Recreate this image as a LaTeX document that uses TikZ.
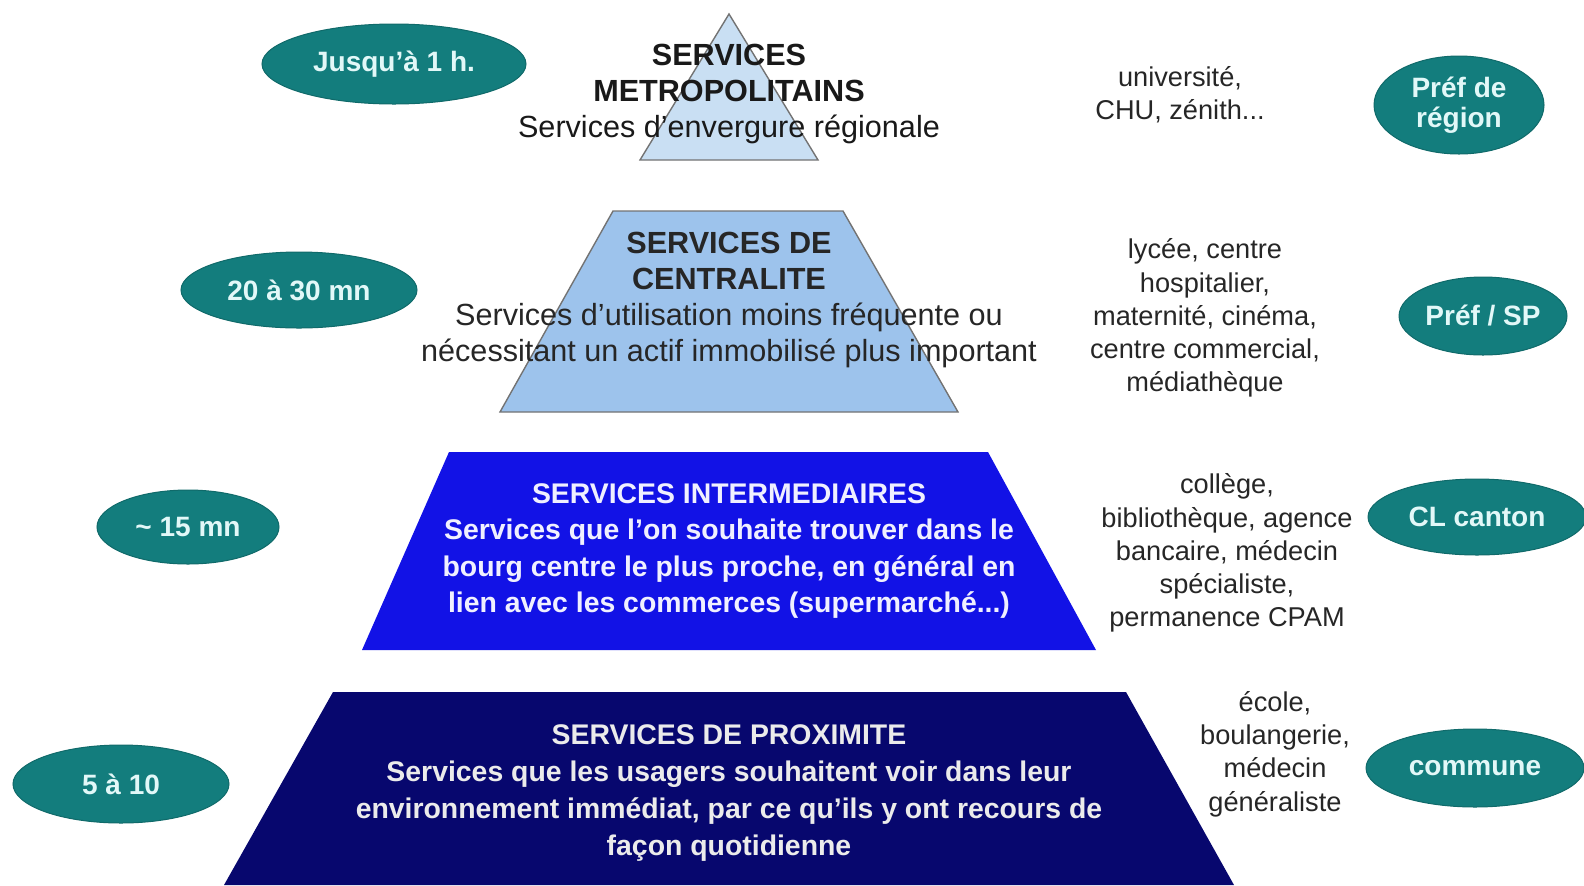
\documentclass[tikz,border=0pt]{standalone}
\usepackage{fontspec}
\setmainfont{Liberation Sans}
\usepackage{tikz}
\usetikzlibrary{shapes.geometric}

\definecolor{sarcelle}{HTML}{137D7D}
\definecolor{bulletexte}{HTML}{E2F8F8}
\definecolor{ciel}{HTML}{C9DFF3}
\definecolor{azur}{HTML}{9DC3EC}
\definecolor{roi}{HTML}{1212E6}
\definecolor{marine}{HTML}{07076E}

\tikzset{
  bulle/.style={ellipse, fill=sarcelle, draw=sarcelle!85!black, line width=0.5pt,
    inner sep=0pt, text=bulletexte, align=center,
    font=\bfseries\fontsize{14}{15}\selectfont},
  etage/.style={draw=black!55, line width=0.7pt},
  etagetexte/.style={align=center, font=\fontsize{15.3}{18}\selectfont},
  listetexte/.style={align=center, text=black!85, font=\fontsize{13.6}{16.6}\selectfont}
}

\begin{document}
\begin{tikzpicture}[x=0.5pt,y=-0.5pt]
\useasboundingbox (0,0) rectangle (1584,885);
% pyramide
\filldraw[etage, fill=ciel] (729,14) -- (818,160) -- (640,160) -- cycle;
\filldraw[etage, fill=azur] (613,211) -- (843,211) -- (958,412) -- (500,412) -- cycle;
\fill[roi] (449,452) -- (988,452) -- (1096,650) -- (362,650) -- cycle;
\fill[marine] (333,692) -- (1126,692) -- (1234,885) -- (224,885) -- cycle;

% textes des etages
\node[etagetexte, text=black!90] (metro) at (729,94)
  {\textbf{SERVICES}\\\textbf{METROPOLITAINS}\\Services d'envergure régionale};
\node[etagetexte, text=black!85] (centre) at (729,300)
  {\textbf{SERVICES DE}\\\textbf{CENTRALITE}\\Services d'utilisation moins fréquente ou\\nécessitant un actif immobilisé plus important};
\node[etagetexte, text=white!94!blue, font=\bfseries\fontsize{14.2}{18.2}\selectfont] (inter) at (729,551)
  {SERVICES INTERMEDIAIRES\\Services que l'on souhaite trouver dans le\\bourg centre le plus proche, en général en\\lien avec les commerces (supermarché...)};
\node[etagetexte, text=black!8, font=\bfseries\fontsize{14.2}{18.6}\selectfont] (proxi) at (729,793)
  {SERVICES DE PROXIMITE\\Services que les usagers souhaitent voir dans leur\\environnement immédiat, par ce qu'ils y ont recours de\\façon quotidienne};

% durees
\node[bulle, minimum width=132pt, minimum height=40pt] (heure) at (394,64) {Jusqu'à 1 h.};
\node[bulle, minimum width=118pt, minimum height=38pt] (trente) at (299,290) {20 à 30 mn};
\node[bulle, minimum width=91pt, minimum height=37pt] (quinze) at (188,527) {\textasciitilde\ 15 mn};
\node[bulle, minimum width=108pt, minimum height=39pt] (dix) at (121,784) {5 à 10};

% equipements
\node[listetexte] (univ) at (1180,95) {université,\\CHU, zénith...};
\node[listetexte] (lycee) at (1205,318) {lycée, centre\\hospitalier,\\maternité, cinéma,\\centre commercial,\\médiathèque};
\node[listetexte] (college) at (1227,553) {collège,\\bibliothèque, agence\\bancaire, médecin\\spécialiste,\\permanence CPAM};
\node[listetexte] (ecole) at (1275,754) {école,\\boulangerie,\\médecin\\généraliste};

% niveaux administratifs
\node[bulle, minimum width=85pt, minimum height=49pt] (region) at (1459,105) {Préf de\\région};
\node[bulle, minimum width=84pt, minimum height=39pt] (pref) at (1483,316) {Préf / SP};
\node[bulle, minimum width=109pt, minimum height=38pt] (canton) at (1477,517) {CL canton};
\node[bulle, minimum width=109pt, minimum height=39pt] (commune) at (1475,768) {commune};
\end{tikzpicture}
\end{document}
